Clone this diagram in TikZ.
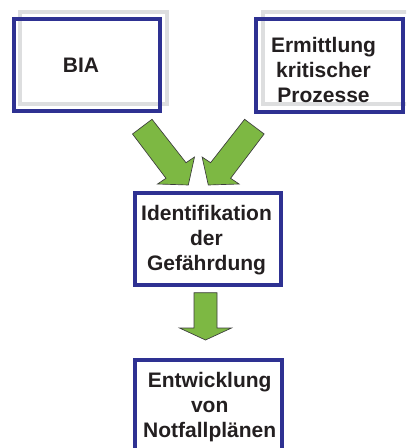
\documentclass[tikz,border=0pt]{standalone}
\usepackage{fontspec}
\setmainfont{Liberation Sans}
\definecolor{boxblue}{RGB}{46,49,146}
\definecolor{shadowgray}{RGB}{221,222,223}
\definecolor{arrowgreen}{RGB}{125,184,67}
\definecolor{arrowline}{RGB}{60,60,60}
\definecolor{textdark}{RGB}{35,31,32}

\begin{document}
\begin{tikzpicture}[x=0.75pt,y=-0.75pt,
  boxline/.style={draw=boxblue,line width=2.6pt},
  shadowline/.style={draw=shadowgray,line width=2.3pt},
  blockarrow/.style={fill=arrowgreen,draw=arrowline,line width=0.5pt,line join=miter},
  boxtext/.style={align=center,inner sep=0pt,text=textdark,
    font=\fontsize{15.75}{18.75}\selectfont\bfseries}]
  % Fix the size of the picture
  \useasboundingbox (0,0) rectangle (406,448);
  \clip (0,0) rectangle (406,448);

  % Grey frames behind the two upper boxes
  \draw[shadowline] (20,12) rectangle (167,104);
  \draw[shadowline] (263,12) rectangle (420,104);

  % Blue frames
  \draw[boxline] (14,19) rectangle (160,111);
  \draw[boxline] (256,19) rectangle (403,112);
  \draw[boxline] (135,193) rectangle (281,285);
  \draw[boxline] (135,360) rectangle (282,480);

  % Texts
  \node[boxtext] (bia) at (81,65) {BIA};
  \node[boxtext] (ermittlung) at (323.5,70.4) {Ermittlung\\kritischer\\Prozesse};
  \node[boxtext] (identifikation) at (206.5,240) {Identifikation\\der\\Gefährdung};
  \node[boxtext] (entwicklung) at (209.7,407) {Entwicklung\\von\\Notfallplänen};

  % Green block arrows
  \filldraw[blockarrow] (132.5,134) -- (152,119.3) -- (186,162.7) -- (194.5,157) --
    (188.3,185) -- (157.5,184) -- (166,178.3) -- cycle;
  \filldraw[blockarrow] (264.1,134) -- (244.6,119.3) -- (210.6,162.7) -- (202.1,157) --
    (208.3,185) -- (239.1,184) -- (230.6,178.3) -- cycle;
  \filldraw[blockarrow] (194,292.7) -- (217,292.7) -- (217,328) -- (231.5,328) --
    (205.5,340) -- (179.5,328) -- (194,328) -- cycle;
\end{tikzpicture}
\end{document}
